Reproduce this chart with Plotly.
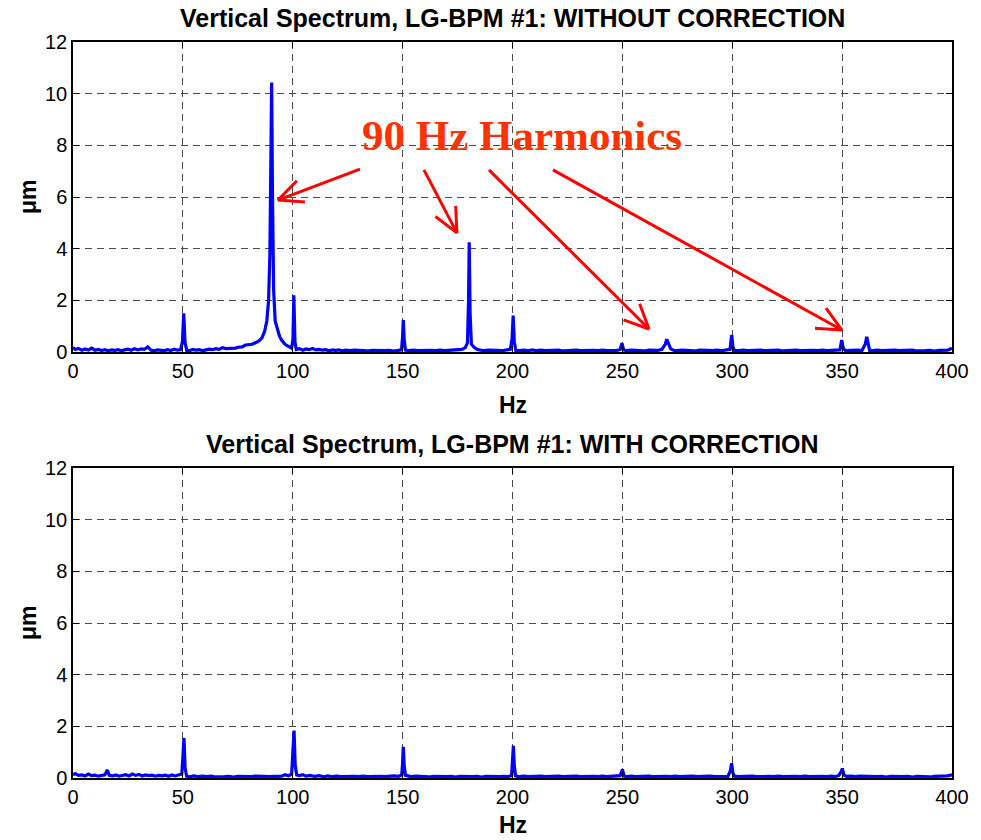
import math
import plotly.graph_objects as go

# ---------------- data ----------------
TOP_POINTS = [
    (0, 0.18), (1, 0.10), (2.5, 0.14), (4, 0.07), (5.5, 0.12), (7, 0.08), (8.5, 0.15), (10, 0.07),
    (11.5, 0.10), (13, 0.06), (14.5, 0.09), (16, 0.05), (17.5, 0.08), (19, 0.06), (20.5, 0.09),
    (22, 0.05), (23.5, 0.08), (25, 0.11), (26.5, 0.07), (28, 0.13), (29.5, 0.08), (31, 0.12),
    (32.5, 0.10), (34, 0.20), (35.5, 0.07), (37, 0.05), (38.5, 0.08), (40, 0.06), (41.5, 0.05),
    (43, 0.09), (44.5, 0.06), (46, 0.11), (47.5, 0.07), (49, 0.09), (49.8, 0.40), (50.4, 1.50),
    (51, 0.35), (51.8, 0.06), (53, 0.05), (54.5, 0.10), (56, 0.07), (57.5, 0.09), (59, 0.05),
    (60.5, 0.08), (62, 0.11), (63.5, 0.09), (65, 0.13), (66.5, 0.10), (68, 0.17), (69.5, 0.13),
    (71, 0.14), (72.5, 0.13), (74, 0.15), (75.5, 0.19), (77, 0.20), (78.5, 0.27), (80, 0.27),
    (81.5, 0.30), (83, 0.36), (84.5, 0.42), (86, 0.55), (87.2, 0.80), (88.2, 1.20), (89, 2.00),
    (89.6, 3.80), (90.1, 7.50), (90.4, 10.43), (90.8, 6.00), (91.3, 2.40), (92, 1.20), (93, 0.85),
    (94, 0.60), (95, 0.45), (96.5, 0.30), (98, 0.22), (99.5, 0.15), (100.1, 0.50), (100.5, 2.20),
    (101, 0.40), (101.6, 0.10), (103, 0.13), (104.5, 0.07), (106, 0.12), (107.5, 0.09), (109, 0.14),
    (110.5, 0.08), (112, 0.10), (113.5, 0.07), (115, 0.09), (116.5, 0.05), (118, 0.08), (119.5, 0.06),
    (121, 0.08), (122.5, 0.05), (124, 0.07), (126, 0.05), (128, 0.07), (130, 0.05), (132, 0.06),
    (134, 0.04), (136, 0.06), (138, 0.05), (140, 0.07), (142, 0.05), (144, 0.06), (146, 0.04),
    (148, 0.06), (149.5, 0.08), (150, 0.60), (150.3, 1.24), (150.7, 0.50), (151.3, 0.07), (153, 0.05),
    (155, 0.07), (157, 0.05), (159, 0.06), (161, 0.04), (163, 0.06), (165, 0.05), (167, 0.07),
    (169, 0.05), (171, 0.06), (173, 0.05), (175, 0.07), (177, 0.10), (178.5, 0.17), (179.5, 0.35),
    (180, 2.00), (180.3, 4.25), (180.7, 1.50), (181.3, 0.30), (182.5, 0.18), (184, 0.10), (185.5, 0.07),
    (187, 0.05), (189, 0.07), (191, 0.05), (193, 0.06), (195, 0.05), (197, 0.07), (199, 0.10),
    (199.8, 0.50), (200.3, 1.41), (200.8, 0.40), (201.5, 0.06), (203, 0.05), (205, 0.07), (207, 0.05),
    (209, 0.08), (211, 0.05), (213, 0.07), (215, 0.05), (217, 0.06), (219, 0.05), (221, 0.07),
    (223, 0.04), (225, 0.06), (227, 0.05), (229, 0.07), (231, 0.05), (233, 0.06), (235, 0.04),
    (237, 0.06), (239, 0.05), (241, 0.07), (243, 0.05), (245, 0.06), (247, 0.05), (249, 0.10),
    (249.8, 0.34), (250.6, 0.08), (252, 0.05), (254, 0.07), (256, 0.05), (258, 0.06), (260, 0.04),
    (262, 0.07), (264, 0.05), (266, 0.06), (268, 0.10), (269.5, 0.30), (270.2, 0.49), (271, 0.30),
    (272, 0.12), (273.5, 0.06), (275, 0.05), (277, 0.07), (279, 0.05), (281, 0.06), (283, 0.04),
    (285, 0.07), (287, 0.05), (289, 0.06), (291, 0.05), (293, 0.07), (295, 0.05), (297, 0.06),
    (299, 0.10), (299.5, 0.50), (299.8, 0.66), (300.3, 0.20), (301, 0.06), (303, 0.05), (305, 0.07),
    (307, 0.05), (309, 0.06), (311, 0.04), (313, 0.07), (315, 0.05), (317, 0.06), (319, 0.05),
    (321, 0.07), (323, 0.04), (325, 0.06), (327, 0.05), (329, 0.07), (331, 0.05), (333, 0.06),
    (335, 0.04), (337, 0.06), (339, 0.05), (341, 0.07), (343, 0.05), (345, 0.06), (347, 0.05),
    (349, 0.08), (349.8, 0.46), (350.5, 0.15), (351.5, 0.05), (353, 0.06), (355, 0.05), (357, 0.07),
    (359, 0.05), (360.5, 0.30), (361.2, 0.59), (361.8, 0.25), (362.5, 0.06), (364, 0.05), (366, 0.07),
    (368, 0.05), (370, 0.06), (372, 0.04), (374, 0.07), (376, 0.05), (378, 0.06), (380, 0.05),
    (382, 0.07), (384, 0.04), (386, 0.06), (388, 0.05), (390, 0.06), (392, 0.04), (394, 0.06),
    (396, 0.05), (398, 0.07), (400, 0.15),
]

BOTTOM_POINTS = [
    (0, 0.12), (1, 0.17), (2.5, 0.10), (4, 0.12), (5.5, 0.08), (7, 0.15), (8.5, 0.09), (10, 0.11),
    (11.5, 0.07), (13, 0.10), (14.5, 0.12), (15.6, 0.31), (16.5, 0.10), (18, 0.08), (19.5, 0.12),
    (21, 0.07), (22.5, 0.10), (24, 0.13), (25.5, 0.08), (27, 0.15), (28.5, 0.10), (30, 0.14),
    (31.5, 0.08), (33, 0.12), (34.5, 0.09), (36, 0.11), (37.5, 0.07), (39, 0.10), (40.5, 0.08),
    (42, 0.11), (43.5, 0.07), (45, 0.12), (46.5, 0.08), (48, 0.10), (49.5, 0.15), (50, 0.80),
    (50.5, 1.55), (51, 0.40), (51.7, 0.07), (53, 0.05), (55, 0.08), (57, 0.05), (59, 0.07),
    (61, 0.05), (63, 0.07), (65, 0.04), (67, 0.06), (69, 0.05), (71, 0.06), (73, 0.04), (75, 0.06),
    (77, 0.05), (79, 0.07), (81, 0.05), (83, 0.07), (85, 0.05), (87, 0.06), (89, 0.05), (91, 0.06),
    (93, 0.05), (95, 0.07), (96.5, 0.13), (98, 0.09), (99.5, 0.15), (100.1, 0.90), (100.6, 1.84),
    (101.1, 0.50), (101.8, 0.12), (103, 0.09), (104.5, 0.13), (106, 0.07), (108, 0.10), (110, 0.06),
    (112, 0.09), (114, 0.05), (116, 0.08), (118, 0.05), (120, 0.07), (122, 0.05), (124, 0.06),
    (126, 0.04), (128, 0.06), (130, 0.05), (132, 0.07), (134, 0.05), (136, 0.06), (138, 0.04),
    (140, 0.06), (142, 0.05), (144, 0.07), (146, 0.08), (148, 0.06), (149.6, 0.12), (150, 0.60),
    (150.3, 1.21), (150.7, 0.50), (151.3, 0.10), (152.5, 0.08), (154, 0.05), (156, 0.07), (158, 0.05),
    (160, 0.06), (162, 0.04), (164, 0.06), (166, 0.05), (168, 0.07), (170, 0.05), (172, 0.06),
    (174, 0.04), (176, 0.06), (178, 0.05), (180, 0.07), (182, 0.05), (184, 0.06), (186, 0.04),
    (188, 0.06), (190, 0.05), (192, 0.07), (194, 0.05), (196, 0.06), (198, 0.05), (199.6, 0.10),
    (200, 0.60), (200.4, 1.25), (200.8, 0.50), (201.4, 0.08), (203, 0.05), (205, 0.07), (207, 0.05),
    (209, 0.06), (211, 0.04), (213, 0.07), (215, 0.05), (217, 0.06), (219, 0.04), (221, 0.07),
    (223, 0.05), (225, 0.06), (227, 0.05), (229, 0.07), (231, 0.05), (233, 0.06), (235, 0.04),
    (237, 0.06), (239, 0.05), (241, 0.07), (243, 0.05), (245, 0.06), (247, 0.05), (249, 0.09),
    (250, 0.33), (250.8, 0.08), (252, 0.05), (254, 0.07), (256, 0.05), (258, 0.06), (260, 0.04),
    (262, 0.07), (264, 0.05), (266, 0.06), (268, 0.04), (270, 0.06), (272, 0.05), (274, 0.07),
    (276, 0.05), (278, 0.06), (280, 0.04), (282, 0.07), (284, 0.05), (286, 0.06), (288, 0.04),
    (290, 0.07), (292, 0.05), (294, 0.06), (296, 0.07), (298, 0.05), (299.2, 0.30), (299.7, 0.57),
    (300.3, 0.20), (301, 0.07), (303, 0.05), (305, 0.06), (307, 0.04), (309, 0.07), (311, 0.05),
    (313, 0.06), (315, 0.04), (317, 0.06), (319, 0.05), (321, 0.07), (323, 0.05), (325, 0.06),
    (327, 0.04), (329, 0.06), (331, 0.05), (333, 0.07), (335, 0.05), (337, 0.06), (339, 0.04),
    (341, 0.06), (343, 0.05), (345, 0.07), (347, 0.05), (348.5, 0.10), (349.6, 0.25), (350.1, 0.37),
    (350.8, 0.12), (352, 0.06), (354, 0.07), (356, 0.05), (358, 0.07), (360, 0.06), (362, 0.05),
    (364, 0.07), (366, 0.05), (368, 0.06), (370, 0.04), (372, 0.06), (374, 0.05), (376, 0.07),
    (378, 0.05), (380, 0.06), (382, 0.04), (384, 0.06), (386, 0.05), (388, 0.06), (390, 0.04),
    (392, 0.06), (394, 0.07), (396, 0.05), (398, 0.08), (400, 0.12),
]

TOP_HZ = [p[0] for p in TOP_POINTS]
TOP_UM = [p[1] for p in TOP_POINTS]
BOT_HZ = [p[0] for p in BOTTOM_POINTS]
BOT_UM = [p[1] for p in BOTTOM_POINTS]

X_TICKS = [0, 50, 100, 150, 200, 250, 300, 350, 400]
Y_TICKS = [0, 2, 4, 6, 8, 10, 12]

TITLE_TOP = "Vertical Spectrum, LG-BPM #1: WITHOUT CORRECTION"
TITLE_BOT = "Vertical Spectrum, LG-BPM #1: WITH CORRECTION"
ANNOT_TEXT = "90 Hz Harmonics"

# arrows (tail -> head) in data coordinates of the top panel
ARROWS = [
    ((130.6, 7.08), (93.3, 5.88)),
    ((159.7, 7.05), (174.7, 4.61)),
    ((189.3, 7.05), (262.1, 0.89)),
    ((218.4, 7.05), (349.9, 0.85)),
]

# ---------------- layout geometry ----------------
W, H = 981, 840
AX_L, AX_R = 73, 952
TOP_T, TOP_B = 42, 352
BOT_T, BOT_B = 468, 778
PX_PER_HZ = (AX_R - AX_L) / 400.0
PX_PER_UM = (TOP_B - TOP_T) / 12.0

xdom = [AX_L / W, AX_R / W]
ydom_top = [1 - TOP_B / H, 1 - TOP_T / H]
ydom_bot = [1 - BOT_B / H, 1 - BOT_T / H]

fig = go.Figure()
LINE = dict(color="#0000FF", width=3.2)
fig.add_trace(go.Scatter(x=TOP_HZ, y=TOP_UM, mode="lines", line=LINE, xaxis="x", yaxis="y",
                         showlegend=False, hoverinfo="skip"))
fig.add_trace(go.Scatter(x=BOT_HZ, y=BOT_UM, mode="lines", line=LINE, xaxis="x2", yaxis="y2",
                         showlegend=False, hoverinfo="skip"))

# arrows with open V heads
ax_, ay_ = [], []
HEAD_LEN, HEAD_ANG = 27, math.radians(25)
for (x0, y0), (x1, y1) in ARROWS:
    dx = (x0 - x1) * PX_PER_HZ
    dy = (y0 - y1) * PX_PER_UM
    a = math.atan2(dy, dx)
    ax_ += [x0, x1, None]
    ay_ += [y0, y1, None]
    wings = []
    for s in (1, -1):
        wx = x1 + HEAD_LEN * math.cos(a + s * HEAD_ANG) / PX_PER_HZ
        wy = y1 + HEAD_LEN * math.sin(a + s * HEAD_ANG) / PX_PER_UM
        wings.append((wx, wy))
    ax_ += [wings[0][0], x1, wings[1][0], None]
    ay_ += [wings[0][1], y1, wings[1][1], None]
fig.add_trace(go.Scatter(x=ax_, y=ay_, mode="lines", line=dict(color="#FF0000", width=3),
                         xaxis="x", yaxis="y", showlegend=False, hoverinfo="skip"))

TICKFONT = dict(family="Liberation Sans, Arial", size=20, color="black")
common_x = dict(range=[0, 400], tickvals=X_TICKS, ticktext=[str(v) for v in X_TICKS],
                showgrid=True, gridcolor="#4a4a4a", griddash="7px,5px", gridwidth=1,
                showline=True, linecolor="black", linewidth=1.5, mirror="ticks",
                ticks="inside", ticklen=6, tickcolor="black", tickfont=TICKFONT,
                zeroline=False, domain=xdom, fixedrange=True, automargin=False)
common_y = dict(range=[0, 12], tickvals=Y_TICKS, ticktext=[str(v) for v in Y_TICKS],
                showgrid=True, gridcolor="#4a4a4a", griddash="7px,5px", gridwidth=1,
                showline=True, linecolor="black", linewidth=1.5, mirror="ticks",
                ticks="inside", ticklen=6, tickcolor="black", tickfont=TICKFONT,
                zeroline=False, fixedrange=True, automargin=False)

fig.update_layout(
    width=W, height=H, margin=dict(l=0, r=0, t=0, b=0, autoexpand=False),
    paper_bgcolor="white", plot_bgcolor="white", showlegend=False,
    xaxis=dict(common_x, anchor="y"),
    yaxis=dict(common_y, domain=ydom_top, anchor="x"),
    xaxis2=dict(common_x, anchor="y2"),
    yaxis2=dict(common_y, domain=ydom_bot, anchor="x2"),
)

BOLD = dict(family="Liberation Sans, Arial", size=25, color="black")
LABEL = dict(family="Liberation Sans, Arial", size=23, color="black")
cx = (AX_L + AX_R) / 2 / W
annots = [
    dict(text="<b>%s</b>" % TITLE_TOP, x=cx, y=1 - 18 / H, font=BOLD),
    dict(text="<b>%s</b>" % TITLE_BOT, x=cx, y=1 - 444 / H, font=BOLD),
    dict(text="<b>Hz</b>", x=cx, y=1 - 405 / H, font=LABEL),
    dict(text="<b>Hz</b>", x=cx, y=1 - 825 / H, font=LABEL),
    dict(text="<b>μm</b>", x=28 / W, y=1 - 197 / H, font=LABEL, textangle=-90),
    dict(text="<b>μm</b>", x=28 / W, y=1 - 623 / H, font=LABEL, textangle=-90),
    dict(text="<b>%s</b>" % ANNOT_TEXT, x=522 / W, y=1 - 136 / H,
         font=dict(family="Liberation Serif, Times New Roman", size=43, color="#FF3300")),
]
for a in annots:
    a.update(xref="paper", yref="paper", showarrow=False, xanchor="center", yanchor="middle")
    fig.add_annotation(**a)

fig.write_html("out.html")
